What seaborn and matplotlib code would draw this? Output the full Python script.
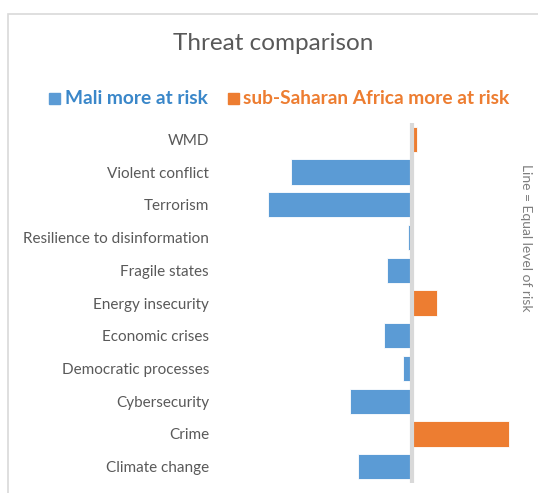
import matplotlib
matplotlib.use("Agg")
import matplotlib.pyplot as plt
from matplotlib.patches import Rectangle
import numpy as np
import pandas as pd
import seaborn as sns

# Threat categories, top to bottom
threats = [
    "WMD", "Violent conflict", "Terrorism", "Resilience to disinformation",
    "Fragile states", "Energy insecurity", "Economic crises",
    "Democratic processes", "Cybersecurity", "Crime", "Climate change",
]
# Difference in risk level (negative = Mali more at risk)
risk_gap = [0.05, -1.21, -1.44, -0.04, -0.25, 0.25, -0.28, -0.09, -0.62, 0.97, -0.54]

series_names = ["Mali more at risk", "sub-Saharan Africa more at risk"]
bar_colors = ["#5b9bd5", "#ed7d31"]
text_colors = ["#3a87c9", "#ed7d31"]

df = pd.DataFrame({"threat": threats, "gap": risk_gap})
df["side"] = np.where(df["gap"] < 0, series_names[0], series_names[1])

sns.set_theme(style="white")
plt.rcParams["font.family"] = ["Lato", "DejaVu Sans"]

W, H = 538, 493
fig = plt.figure(figsize=(W / 100, H / 100), dpi=100)

# outer chart frame
fig.patches.append(Rectangle((8 / W, -0.1), 1.0, (H - 14) / H + 0.1, transform=fig.transFigure,
                             fill=False, edgecolor="#d9d9d9", linewidth=1.2))

ax = fig.add_axes([220 / W, 10 / H, 310 / W, 360 / H])
sns.barplot(data=df, y="threat", x="gap", hue="side", hue_order=series_names,
            palette=bar_colors, saturation=1, dodge=False, width=0.77, legend=False,
            edgecolor="white", linewidth=0.6, ax=ax)

ax.set_xlim(-1.92, 1.18)
ax.set_ylim(len(threats) - 0.5, -0.5)
ax.axvline(0, color="#d9d9d9", linewidth=3, zorder=5)
for s in ax.spines.values():
    s.set_visible(False)
ax.set_xticks([])
ax.set_xlabel("")
ax.set_ylabel("")
ax.tick_params(axis="y", length=0, pad=8, labelsize=11, labelcolor="#595959")

fig.text(273 / W, 1 - 44 / H, "Threat comparison", ha="center", va="center",
         fontsize=17.5, color="#595959")

# legend row
fig.patches.append(Rectangle((49 / W, 1 - 104 / H), 11 / W, 11 / H,
                             transform=fig.transFigure, color=bar_colors[0]))
fig.text(65 / W, 1 - 99 / H, series_names[0], ha="left", va="center",
         fontsize=13.8, fontweight="bold", color=text_colors[0])
fig.patches.append(Rectangle((228 / W, 1 - 104 / H), 11 / W, 11 / H,
                             transform=fig.transFigure, color=bar_colors[1]))
fig.text(243 / W, 1 - 99 / H, series_names[1], ha="left", va="center",
         fontsize=13.8, fontweight="bold", color=text_colors[1])

fig.text(526 / W, 1 - 238 / H, "Line = Equal level of risk", rotation=-90,
         ha="center", va="center", fontsize=10, color="#7f7f7f")

fig.savefig("out.png", dpi=100)
